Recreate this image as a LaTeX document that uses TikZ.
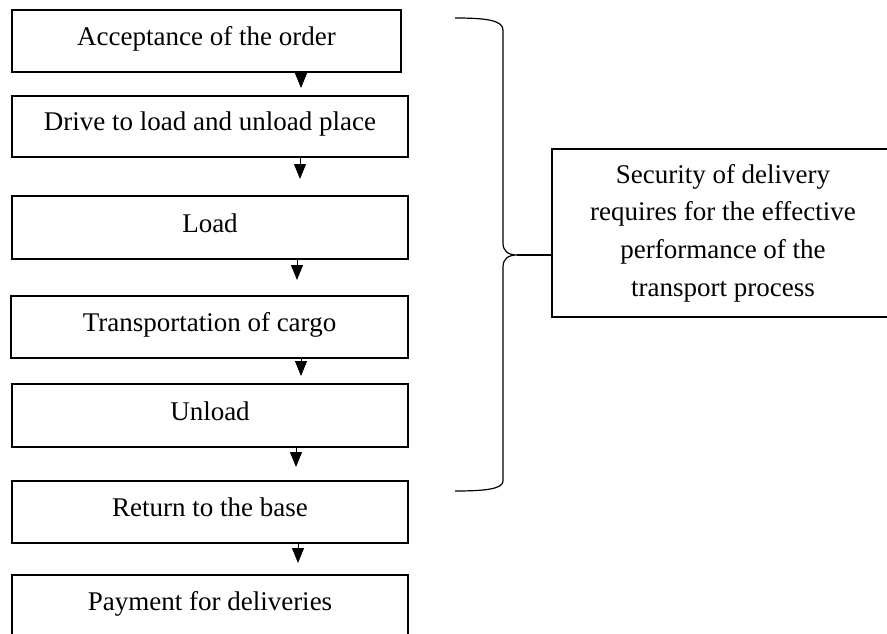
\documentclass[tikz,border=0pt]{standalone}
\usepackage{fontspec}
\setmainfont{Liberation Serif}
\usetikzlibrary{arrows.meta}
\begin{document}
\begin{tikzpicture}[x=1pt,y=-1pt,
  stepbox/.style={draw, line width=2pt, inner sep=0pt, text height=18pt, text depth=9pt,
    font=\fontsize{27}{32}\selectfont},
  arr/.style={line width=1pt, -{Triangle[width=12pt,length=15pt]}},
  brace/.style={line width=1.2pt}]
\useasboundingbox (0,0) rectangle (887,634);
\node[stepbox, minimum width=389pt, minimum height=62pt] (b1) at (206.5,41) {Acceptance of the order};
\node[stepbox, minimum width=396pt, minimum height=61pt] (b2) at (210,126.5) {Drive to load and unload place};
\node[stepbox, minimum width=396pt, minimum height=63pt] (b3) at (210,227.5) {Load};
\node[stepbox, minimum width=397pt, minimum height=62pt] (b4) at (209.5,327) {Transportation of cargo};
\node[stepbox, minimum width=396pt, minimum height=63pt] (b5) at (210,415.5) {Unload};
\node[stepbox, minimum width=396pt, minimum height=62pt] (b6) at (210,512) {Return to the base};
\node[stepbox, minimum width=396pt, minimum height=62pt] (b7) at (210,606) {Payment for deliveries};
\node[draw, line width=2pt, minimum width=342pt, minimum height=168pt, inner sep=0pt,
  align=center, font=\fontsize{27}{37.7}\selectfont] (rb) at (723,233)
  {Security of delivery\\requires for the effective\\performance of the\\transport process};
\draw[arr, shorten >=7pt] (b1.south -| 301,0) -- (b2.north -| 301,0);
\draw[arr, shorten >=16pt] (b2.south -| 300,0) -- (b3.north -| 300,0);
\draw[arr, shorten >=15pt] (b3.south -| 297,0) -- (b4.north -| 297,0);
\draw[arr, shorten >=7pt] (b4.south -| 301,0) -- (b5.north -| 301,0);
\draw[arr, shorten >=13pt] (b5.south -| 296,0) -- (b6.north -| 296,0);
\draw[arr, shorten >=11pt] (b6.south -| 298,0) -- (b7.north -| 298,0);
\coordinate (tip) at (517,255);
\draw[brace] (455,18) .. controls (485,18) and (503,20) .. (503,30) -- (503,243)
  .. controls (503,251) and (508,255) .. (tip)
  .. controls (508,255) and (503,259) .. (503,267) -- (503,481)
  .. controls (503,489) and (485,491) .. (455,491);
\draw[brace] (tip) -- (tip -| rb.west);
\end{tikzpicture}
\end{document}
